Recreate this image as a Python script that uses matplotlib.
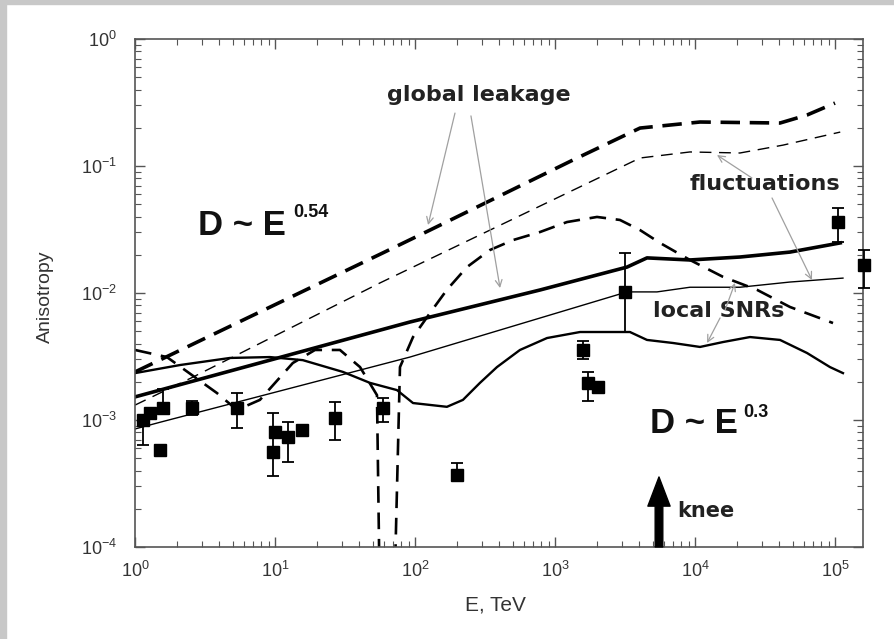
import numpy as np
import matplotlib
matplotlib.use("Agg")
import matplotlib.pyplot as plt
from matplotlib.patches import Rectangle

plt.rcParams['lines.scale_dashes'] = False
plt.rcParams['font.family'] = ['Liberation Sans', 'DejaVu Sans']

# ---- model curves (E in TeV, anisotropy) ----
# D ~ E^0.54, global leakage
glob54_E = [1, 59, 128, 1345, 4050, 10860, 40500, 63100, 1.0e5]
glob54_A = [2.39e-3, 2.07e-2, 3.13e-2, 0.1115, 0.199, 0.222, 0.218, 0.252, 0.313]

# D ~ E^0.54, fluctuations
fluct54_E = [1, 2.6, 56.2, 4050, 9200, 20950, 42500, 1.09e5]
fluct54_A = [1.31e-3, 2.18e-3, 1.2e-2, 0.1156, 0.129, 0.1266, 0.146, 0.185]

# D ~ E^0.3, global leakage
glob30_E = [1, 92, 781, 3270, 4540, 9200, 20950, 47700, 1.09e5]
glob30_A = [1.52e-3, 5.91e-3, 1.056e-2, 1.6e-2, 1.89e-2, 1.82e-2, 1.92e-2, 2.1e-2, 2.48e-2]

# D ~ E^0.3, fluctuations
fluct30_E = [1, 1.51, 92, 3270, 5350, 9200, 20950, 47700, 1.14e5]
fluct30_A = [8.5e-4, 9.6e-4, 3.13e-3, 1.02e-2, 1.02e-2, 1.11e-2, 1.11e-2, 1.22e-2, 1.31e-2]

# D ~ E^0.3, local SNRs
snr30_E = [1, 2.1, 4.77, 9.2, 15.8, 30.6, 47.7, 74.3, 96.8, 169, 220, 291, 385, 562,
           877, 1510, 3430, 4540, 6960, 10860, 15850, 24700, 40500, 63100, 92100, 1.14e5]
snr30_A = [2.34e-3, 2.71e-3, 3.08e-3, 3.13e-3, 2.96e-3, 2.39e-3, 1.96e-3, 1.72e-3, 1.36e-3,
           1.27e-3, 1.44e-3, 1.96e-3, 2.61e-3, 3.56e-3, 4.42e-3, 4.93e-3, 4.93e-3, 4.27e-3,
           4.04e-3, 3.76e-3, 4.11e-3, 4.5e-3, 4.27e-3, 3.37e-3, 2.61e-3, 2.34e-3]

# D ~ E^0.54, local SNRs (anisotropy changes sign near 60 TeV)
snr54_E = [1, 1.69, 3.85, 5.35, 7.8, 13.4, 19.3, 29.1, 40.5, 53.5, 57, 69, 78.1, 96.8,
           128, 169, 235, 343, 501, 781, 1218, 1995, 2910, 4050, 5620, 9200, 15850,
           27700, 47700, 96800]
snr54_A = [3.56e-3, 3.13e-3, 1.63e-3, 1.2e-3, 1.44e-3, 2.81e-3, 3.56e-3, 3.56e-3, 2.61e-3,
           1.57e-3, 1e-5, 1e-5, 2.61e-3, 4.5e-3, 6.96e-3, 1.06e-2, 1.6e-2, 2.18e-2, 2.61e-2,
           3.02e-2, 3.62e-2, 3.97e-2, 3.76e-2, 3.13e-2, 2.48e-2, 1.82e-2, 1.34e-2, 1.06e-2,
           7.76e-3, 5.8e-3]

# ---- measurements ----
data_E = [1.14, 1.28, 1.58, 1.51, 2.55, 5.35, 10.0, 9.7, 12.4, 15.6, 26.8, 59, 200,
          1585, 1720, 2030, 3160, 1.05e5, 1.6e5]
data_A = [1.0e-3, 1.14e-3, 1.24e-3, 5.8e-4, 1.24e-3, 1.24e-3, 8.0e-4, 5.6e-4, 7.3e-4,
          8.3e-4, 1.04e-3, 1.24e-3, 3.7e-4, 3.56e-3, 1.95e-3, 1.82e-3, 1.02e-2, 3.6e-2, 1.66e-2]
data_lo = [6.4e-4, 1.14e-3, 1.24e-3, 5.8e-4, 1.1e-3, 8.65e-4, 8.0e-4, 3.6e-4, 4.7e-4,
           8.3e-4, 7.0e-4, 9.6e-4, 3.7e-4, 3.0e-3, 1.4e-3, 1.82e-3, 4.9e-3, 2.5e-2, 1.1e-2]
data_hi = [1.0e-3, 1.14e-3, 1.75e-3, 5.8e-4, 1.4e-3, 1.63e-3, 8.0e-4, 1.13e-3, 9.6e-4,
           8.3e-4, 1.38e-3, 1.5e-3, 4.6e-4, 4.2e-3, 2.4e-3, 1.82e-3, 2.07e-2, 4.7e-2, 2.2e-2]

knee_E = 5530

fig = plt.figure(figsize=(8.94, 6.39), dpi=100)
# light grey frame strips along the top and left edges
fig.patches.append(Rectangle((0, 1 - 4 / 639), 1, 4 / 639, transform=fig.transFigure,
                             color='#c8c8c8', zorder=0))
fig.patches.append(Rectangle((0, 0), 6 / 894, 1, transform=fig.transFigure,
                             color='#c8c8c8', zorder=0))

ax = fig.add_axes([135 / 894, 1 - 547 / 639, 728 / 894, 508 / 639])
ax.set_xscale('log')
ax.set_yscale('log')
ax.set_xlim(1, 10 ** 5.2)
ax.set_ylim(1e-4, 1)

ax.plot(glob54_E, glob54_A, color='k', lw=2.6, dashes=(14, 7))
ax.plot(fluct54_E, fluct54_A, color='k', lw=1.0, dashes=(8.5, 5.5))
ax.plot(snr54_E, snr54_A, color='k', lw=1.9, dashes=(12, 7))
ax.plot(glob30_E, glob30_A, color='k', lw=2.6)
ax.plot(fluct30_E, fluct30_A, color='k', lw=1.0)
ax.plot(snr30_E, snr30_A, color='k', lw=1.7)

yerr = [np.array(data_A) - np.array(data_lo), np.array(data_hi) - np.array(data_A)]
ax.errorbar(data_E, data_A, yerr=yerr, fmt='s', color='k', ms=8.5, elinewidth=1.3,
            capsize=4, capthick=1.3, clip_on=False, zorder=5)

# annotations
tfont = dict(family='DejaVu Sans', weight='bold', color='#222')
ax.text(63, 0.362, 'global leakage', fontsize=16, va='center', ha='left', **tfont)
ax.text(9200, 0.0722, 'fluctuations', fontsize=16, va='center', ha='left', **tfont)
ax.text(5010, 7.21e-3, 'local SNRs', fontsize=16, va='center', ha='left', **tfont)
ax.text(7430, 1.92e-4, 'knee', fontsize=15, va='center', ha='left', **tfont)

dfont = dict(family='Liberation Sans', weight='bold', color='#111')
ax.text(2.82, 0.0286, 'D ~ E', fontsize=25, va='baseline', ha='left', **dfont)
ax.text(13.4, 0.0397, '0.54', fontsize=13, va='baseline', ha='left', **dfont)
ax.text(4770, 7.9e-4, 'D ~ E', fontsize=25, va='baseline', ha='left', **dfont)
ax.text(22000, 1.06e-3, '0.3', fontsize=13, va='baseline', ha='left', **dfont)

aprops = dict(arrowstyle='->', color='#a0a0a0', lw=0.9, shrinkA=0, shrinkB=0,
              mutation_scale=12)
arrows = [((193, 0.261), (124, 0.0343)),
          ((251, 0.248), (405, 0.01094)),
          ((25500, 0.0805), (14360, 0.122)),
          ((35500, 0.056), (68500, 0.01265)),
          ((16400, 7.35e-3), (19300, 0.012)),
          ((15100, 6.36e-3), (12190, 4.04e-3))]
for start, end in arrows:
    ax.annotate('', xy=end, xytext=start, arrowprops=aprops)

ax.annotate('', xy=(knee_E, 3.56e-4), xytext=(knee_E, 1e-4),
            arrowprops=dict(arrowstyle='simple,head_length=21,head_width=16,tail_width=5.5',
                            mutation_scale=1, color='k', shrinkA=0, shrinkB=0))

# axes styling
for sp in ax.spines.values():
    sp.set_color('#555555')
    sp.set_linewidth(1.2)
ax.tick_params(which='both', direction='in', top=True, right=True, colors='#555555',
               labelcolor='#333333', labelsize=13)
ax.tick_params(which='major', length=7, width=1.0)
ax.tick_params(which='minor', length=4, width=0.8)
ax.tick_params(axis='x', pad=10)
ax.tick_params(axis='y', pad=13)
ax.xaxis.set_major_locator(matplotlib.ticker.LogLocator(base=10, numticks=10))
ax.xaxis.set_minor_locator(matplotlib.ticker.LogLocator(base=10, subs=np.arange(2, 10), numticks=20))
ax.yaxis.set_minor_locator(matplotlib.ticker.LogLocator(base=10, subs=np.arange(2, 10), numticks=20))

ax.set_xlabel('E, TeV', fontsize=15, color='#333333')
ax.set_ylabel('Anisotropy', fontsize=14, color='#333333')
ax.xaxis.set_label_coords(0.4945, -0.114)
ax.xaxis.label.set_va('center')
ax.yaxis.set_label_coords(-0.1236, 0.492)
ax.yaxis.label.set_va('center')

fig.savefig('out.png', dpi=100)
